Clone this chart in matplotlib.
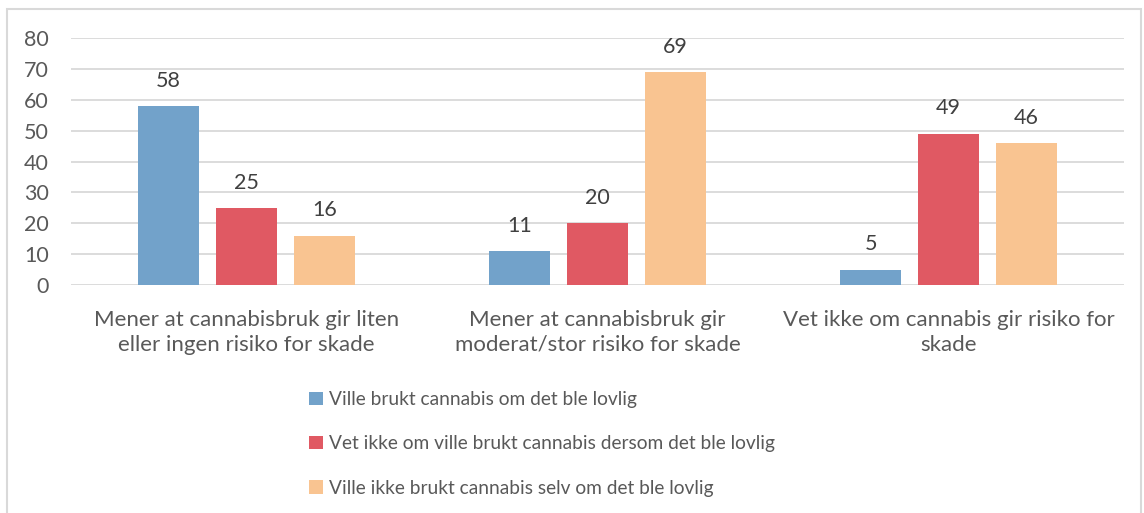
import matplotlib
matplotlib.use("Agg")
import matplotlib.pyplot as plt
import numpy as np
from matplotlib.patches import Rectangle, Patch

categories = [
    "Mener at cannabisbruk gir liten\neller ingen risiko for skade",
    "Mener at cannabisbruk gir\nmoderat/stor risiko for skade",
    "Vet ikke om cannabis gir risiko for\nskade",
]
series_names = [
    "Ville brukt cannabis om det ble lovlig",
    "Vet ikke om ville brukt cannabis dersom det ble lovlig",
    "Ville ikke brukt cannabis selv om det ble lovlig",
]
ville_brukt = [58, 11, 5]
vet_ikke = [25, 20, 49]
ville_ikke = [16, 69, 46]
y_ticks = [0, 10, 20, 30, 40, 50, 60, 70, 80]

colors = ["#72A2CA", "#E05963", "#F9C491"]
text_dark = "#404040"
text_gray = "#595959"
grid_color = "#D9D9D9"

plt.rcParams["font.family"] = ["Lato", "DejaVu Sans"]

fig = plt.figure(figsize=(11.44, 5.13), dpi=100)
W, H = 1144, 513
ax = fig.add_axes([71 / W, 1 - 285 / H, (1124 - 71) / W, (285 - 38) / H])

# chart frame
fig.patches.append(Rectangle((7 / W, -0.05), (1141 - 7) / W, 1 - 9 / H + 0.05,
                             transform=fig.transFigure, fill=False,
                             edgecolor=grid_color, linewidth=1.5))

x = np.arange(len(categories))
width = 0.174
step = 0.222
series = [ville_brukt, vet_ikke, ville_ikke]
for i, (vals, c, name) in enumerate(zip(series, colors, series_names)):
    bars = ax.bar(x + (i - 1) * step, vals, width, color=c, label=name, zorder=3)
    for b, v in zip(bars, vals):
        ax.annotate(f"{v}", (b.get_x() + b.get_width() / 2, v),
                    xytext=(0, 11), textcoords="offset points",
                    ha="center", va="bottom", fontsize=15.5, color=text_dark)

ax.set_xlim(-0.5, len(categories) - 0.5)
ax.set_ylim(0, 80)
ax.set_yticks(y_ticks)
ax.yaxis.grid(True, color=grid_color, linewidth=1.3, zorder=0)
ax.set_axisbelow(True)
for s in ax.spines.values():
    s.set_visible(False)
ax.tick_params(axis="y", length=0, pad=16, labelsize=15.5, labelcolor=text_gray)
ax.tick_params(axis="x", length=0, pad=18, labelsize=16, labelcolor=text_gray)
ax.set_xticks(x)
ax.set_xticklabels(categories, linespacing=1.3)

handles = [Patch(facecolor=c, edgecolor="none") for c in colors]
fig.legend(handles, series_names, loc="upper left",
           bbox_to_anchor=(292 / W, 1 - 374 / H), frameon=False,
           fontsize=13.8, labelcolor=text_gray, handlelength=0.7,
           handleheight=0.7, handletextpad=0.35, labelspacing=1.42)

fig.savefig("out.png", dpi=100)
